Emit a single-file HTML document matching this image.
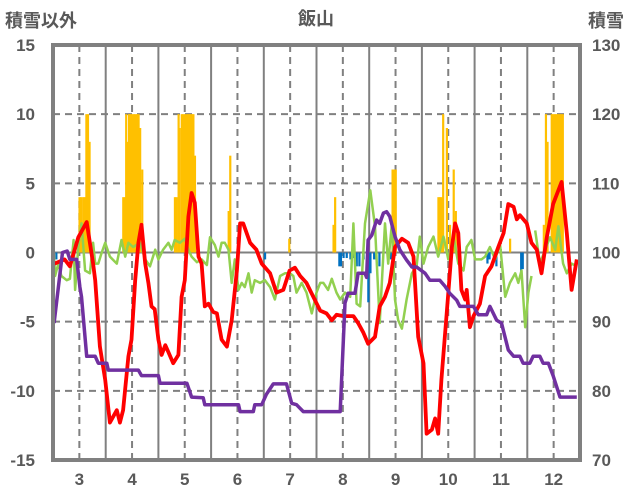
<!DOCTYPE html>
<html><head><meta charset="utf-8"><style>
body{margin:0;background:#fff;}
svg{display:block;font-family:"Liberation Sans","Noto Sans CJK JP",sans-serif;}
</style></head><body>
<svg id="chart" width="636" height="501" viewBox="0 0 636 501">
<text x="5" y="27" font-size="18" font-weight="bold" fill="#595959">積雪以外</text>
<text x="316" y="25" font-size="18" font-weight="bold" fill="#595959" text-anchor="middle">飯山</text>
<text x="588" y="27" font-size="18" font-weight="bold" fill="#595959">積雪</text>
<g id="grid"></g><g id="bars"></g><g id="lines"></g><g id="labels"></g>
<rect x="53" y="45" width="527" height="415" fill="none" stroke="#808080" stroke-width="4"/>
</svg>
<script>
const monthTicks=[3,4,5,6,7,8,9,10,11,12];
const leftTicks=[15,10,5,0,-5,-10,-15];
const rightTicks=[130,120,110,100,90,80,70];
const snowM=[3.00,3.03,3.07,3.10,3.13,3.16,3.19,3.83,3.86,3.885,3.91,3.94,3.97,4.0,4.03,4.06,4.09,4.12,4.15,4.19,4.81,4.84,4.88,4.90,4.94,4.97,5.0,5.04,5.07,5.10,5.13,5.16,5.19,5.83,5.86,6.98,7.82,7.85,8.94,8.97,9.0,9.81,9.84,9.87,9.90,9.97,10.03,10.1,10.14,11.17,11.81,11.85,11.88,11.96,11.99,12.02,12.05,12.08,12.11,12.14,12.17];
const snowV=[4,4,4,4,10,10,8,4,4,10,8,10,10,10,10,10,10,10,9,6,4,4,10,9,10,10,10,10,10,10,10,10,7,3,7,1,2,4,6,6,6,4,4,4,10,9,2,6,3,1,2,10,8,10,10,10,10,10,10,10,10];
const negM=[2.56,6.52,7.93,7.96,8.01,8.07,8.14,8.2,8.26,8.31,8.39,8.48,8.52,8.59,8.63,8.69,8.91,10.74,10.78,10.91,11.38,11.41];
const negV=[-0.5,-0.5,-1,-1,-0.4,-0.4,-0.5,-0.4,-1,-1,-0.5,-3.6,-1.5,-0.5,-0.5,-1,-0.5,-0.8,-0.5,-1,-1.5,-1.2];
const redM=[2.53,2.72,2.82,2.98,3.14,3.2,3.26,3.3,3.39,3.49,3.58,3.71,3.77,3.83,3.93,3.99,4.06,4.12,4.18,4.25,4.31,4.37,4.43,4.5,4.56,4.63,4.69,4.78,4.88,4.94,5.0,5.07,5.13,5.19,5.26,5.32,5.38,5.45,5.54,5.61,5.7,5.8,5.89,5.99,6.05,6.11,6.24,6.36,6.46,6.62,6.74,6.87,6.99,7.09,7.19,7.31,7.44,7.57,7.69,7.79,7.88,8.01,8.2,8.29,8.39,8.48,8.61,8.7,8.8,8.89,8.99,9.12,9.24,9.34,9.43,9.53,9.59,9.69,9.75,9.81,9.87,9.97,10.07,10.13,10.19,10.25,10.32,10.35,10.41,10.48,10.6,10.7,10.82,10.95,11.05,11.14,11.24,11.3,11.36,11.49,11.58,11.68,11.77,11.87,11.99,12.15,12.25,12.34,12.44];
const redV=[-0.8,-0.5,-1.0,1.1,2.2,0.7,-0.8,-2.0,-6.8,-9.2,-12.3,-11.4,-12.3,-11.4,-7.5,-6.3,-2.0,0.7,2.0,-0.8,-2.2,-3.9,-4.1,-6.3,-7.4,-6.7,-7.2,-8.0,-7.4,-3.2,-2.0,2.6,4.3,3.6,-0.3,-0.8,-3.9,-3.7,-4.3,-4.4,-6.3,-6.8,-4.9,-1.3,2.1,2.1,0.7,0.2,-0.8,-1.5,-2.9,-2.7,-1.3,-1.1,-1.7,-2.2,-3.2,-4.2,-4.4,-4.9,-4.5,-4.6,-4.6,-5.1,-5.8,-6.6,-6.1,-3.9,-3.2,-2.2,0.4,1.0,0.7,-0.3,-6.1,-8.0,-13.1,-12.8,-12.0,-13.1,-9.2,-4.4,0.4,2.1,1.4,-2.7,-3.4,-2.7,-5.4,-4.6,-3.7,-1.7,-1.0,0.4,1.4,3.5,3.3,2.4,2.7,2.1,0.7,0.2,-1.5,1.1,3.5,5.1,1.4,-2.7,-0.5];
const greenM=[2.51,2.54,2.6,2.66,2.76,2.82,2.89,2.92,2.98,3.04,3.11,3.2,3.26,3.3,3.36,3.42,3.49,3.58,3.71,3.8,3.87,3.93,4.02,4.15,4.25,4.34,4.44,4.5,4.59,4.69,4.75,4.81,4.91,5.0,5.07,5.13,5.23,5.32,5.42,5.48,5.57,5.64,5.7,5.76,5.83,5.89,5.95,6.02,6.08,6.14,6.21,6.27,6.33,6.43,6.52,6.62,6.71,6.81,6.9,7.0,7.06,7.12,7.22,7.31,7.41,7.5,7.57,7.63,7.72,7.79,7.88,7.95,8.04,8.14,8.2,8.26,8.33,8.42,8.52,8.61,8.7,8.8,8.86,8.93,8.99,9.05,9.12,9.21,9.31,9.4,9.46,9.53,9.62,9.72,9.81,9.91,10.0,10.1,10.19,10.29,10.35,10.44,10.51,10.63,10.7,10.79,10.89,10.98,11.08,11.17,11.27,11.33,11.39,11.46,11.52,11.58,11.62,11.65,11.74,11.84,11.93,12.03,12.09,12.18,12.25,12.34,12.44];
const greenV=[0.4,-1.7,-0.8,-1.7,-2.0,-1.9,0.9,-2.7,0.4,2.1,-1.3,-1.5,0.7,-0.8,-0.8,-0.05,0.7,-0.3,-0.8,0.9,-0.3,0.7,0.4,0.7,-0.5,-1.0,0.2,-0.5,0.2,0.7,0.2,0.9,0.7,1.0,0.2,-0.3,-0.7,-0.5,-0.9,1.1,0.55,-0.3,0.7,0.7,0.2,-2.2,-0.5,-2.7,-2.2,-2.5,-1.5,-2.9,-2.0,-2.2,-2.0,-2.5,-3.4,-1.7,-1.5,-1.5,-1.7,-2.9,-2.2,-2.9,-4.4,-2.9,-2.2,-2.2,-2.7,-1.9,-2.9,-3.4,-2.9,-3.2,2.1,-3.7,-3.9,2.1,4.5,1.9,-5.1,2.1,-0.8,2.1,-3.4,-4.9,-5.5,-3.4,-1.5,-1.0,1.15,-0.8,0.4,1.15,-0.3,1.15,-0.5,1.15,-0.8,-1.3,0.4,0.9,-0.5,-0.5,-0.3,0.4,-0.5,0.7,-3.2,-2.2,-1.5,-2.2,-1.3,-5.4,-2.9,-1.7,null,1.6,-0.8,0.2,1.1,0.2,1.9,-0.8,-1.5,-0.8,-1.0];
const purpleM=[2.52,2.68,2.77,2.82,2.95,3.01,3.04,3.14,3.3,3.36,3.52,3.55,4.12,4.18,4.5,4.53,5.04,5.13,5.35,5.38,6.02,6.05,6.3,6.33,6.46,6.55,6.68,6.93,7.03,7.12,7.25,7.95,8.04,8.1,8.23,8.29,8.42,8.45,8.48,8.55,8.64,8.7,8.77,8.83,8.89,8.99,9.08,9.21,9.31,9.4,9.56,9.65,9.84,9.94,10.03,10.16,10.22,10.48,10.57,10.73,10.79,10.92,11.01,11.14,11.24,11.36,11.42,11.55,11.61,11.74,11.8,11.9,11.99,12.12,12.18,12.44];
const purpleV=[89.8,100,100.2,99,99,95,93.6,85,85,84,84,83,83,82.2,82.2,81.1,81.1,79.1,79,78,78,77,77,78,78,79.5,81,81,78.2,78,77,77,92.7,94.1,94.1,97,97,96.4,101.8,102.5,104.7,104.2,105.7,105.9,105.2,102.3,100.4,98.9,97.9,97.9,97,96,96,95.1,94.1,93.1,92.2,92.2,91,91,92.2,90.2,89.8,85.9,85,85,84,84,85,85,84,84,82.2,79.1,79.1,79.1];

const X0=53,X1=580,Y0=45,Y1=460;
const xS=m=>X0+(m-2.5)/10*(X1-X0);
const yL=v=>Y1-(v+15)/30*(Y1-Y0);
const yR=v=>Y1-(v-70)/60*(Y1-Y0);
const NS="http://www.w3.org/2000/svg";
function mk(tag,attrs,parent){const e=document.createElementNS(NS,tag);for(const k in attrs)e.setAttribute(k,attrs[k]);document.getElementById(parent).appendChild(e);return e;}

for(let i=0;i<monthTicks.length;i++){
  const x=xS(monthTicks[i]);
  const d=mk('line',{x1:x,y1:Y0,x2:x,y2:Y1,stroke:'#808080','stroke-width':2,'stroke-dasharray':'7,5'},'grid');
  
  
  if(i>0){const xs=xS(monthTicks[i]-0.5);
    const s=mk('line',{x1:xs,y1:Y0,x2:xs,y2:Y1,stroke:'#808080','stroke-width':2},'grid');
    
    }
  const t=mk('text',{x:x,y:485,'text-anchor':'middle','font-size':17,'font-weight':'bold',fill:'#595959'},'labels');
  t.textContent=monthTicks[i];
  
  
}
const xs12=xS(12.5);
for(let i=0;i<leftTicks.length;i++){
  const y=yL(leftTicks[i]);
  if(leftTicks[i]!==15&&leftTicks[i]!==-15){
    const g=mk('line',{x1:X0,y1:y,x2:X1,y2:y,stroke:'#808080','stroke-width':2,'stroke-dasharray':leftTicks[i]===0?'none':'7,5'},'grid');
    
    }
  const t=mk('text',{x:35,y:y+6,'text-anchor':'end','font-size':17,'font-weight':'bold',fill:'#595959'},'labels');
  t.textContent=leftTicks[i];
  
  
  const r=mk('text',{x:592,y:yR(rightTicks[i])+6,'font-size':17,'font-weight':'bold',fill:'#595959'},'labels');
  r.textContent=rightTicks[i];
  
  
}
const bw=1.8;
for(let i=0;i<snowM.length;i++){
  const b=mk('rect',{x:xS(snowM[i])-bw/2,y:yL(snowV[i]),width:bw+0.4,height:yL(0)-yL(snowV[i]),fill:'#FFC000'},'bars');
  
  
}
for(let i=0;i<negM.length;i++){
  const b=mk('rect',{x:xS(negM[i])-bw/2,y:yL(0),width:bw+0.4,height:yL(negV[i])-yL(0),fill:'#0070C0'},'bars');
  
  
}
function path(ms,vs,ys){let d='',pen=false;for(let i=0;i<ms.length;i++){if(vs[i]===null){pen=false;continue;}d+=(pen?'L':'M')+xS(ms[i]).toFixed(1)+','+ys(vs[i]).toFixed(1);pen=true;}return d;}
const g=mk('path',{d:path(greenM,greenV,yL),fill:'none',stroke:'#92D050','stroke-width':2.5,'stroke-linejoin':'round'},'lines');


const r=mk('path',{d:path(redM,redV,yL),fill:'none',stroke:'#FF0000','stroke-width':3.8,'stroke-linejoin':'round'},'lines');


const p=mk('path',{d:path(purpleM,purpleV,yR),fill:'none',stroke:'#7030A0','stroke-width':3.5,'stroke-linejoin':'round'},'lines');


</script>
</body></html>
